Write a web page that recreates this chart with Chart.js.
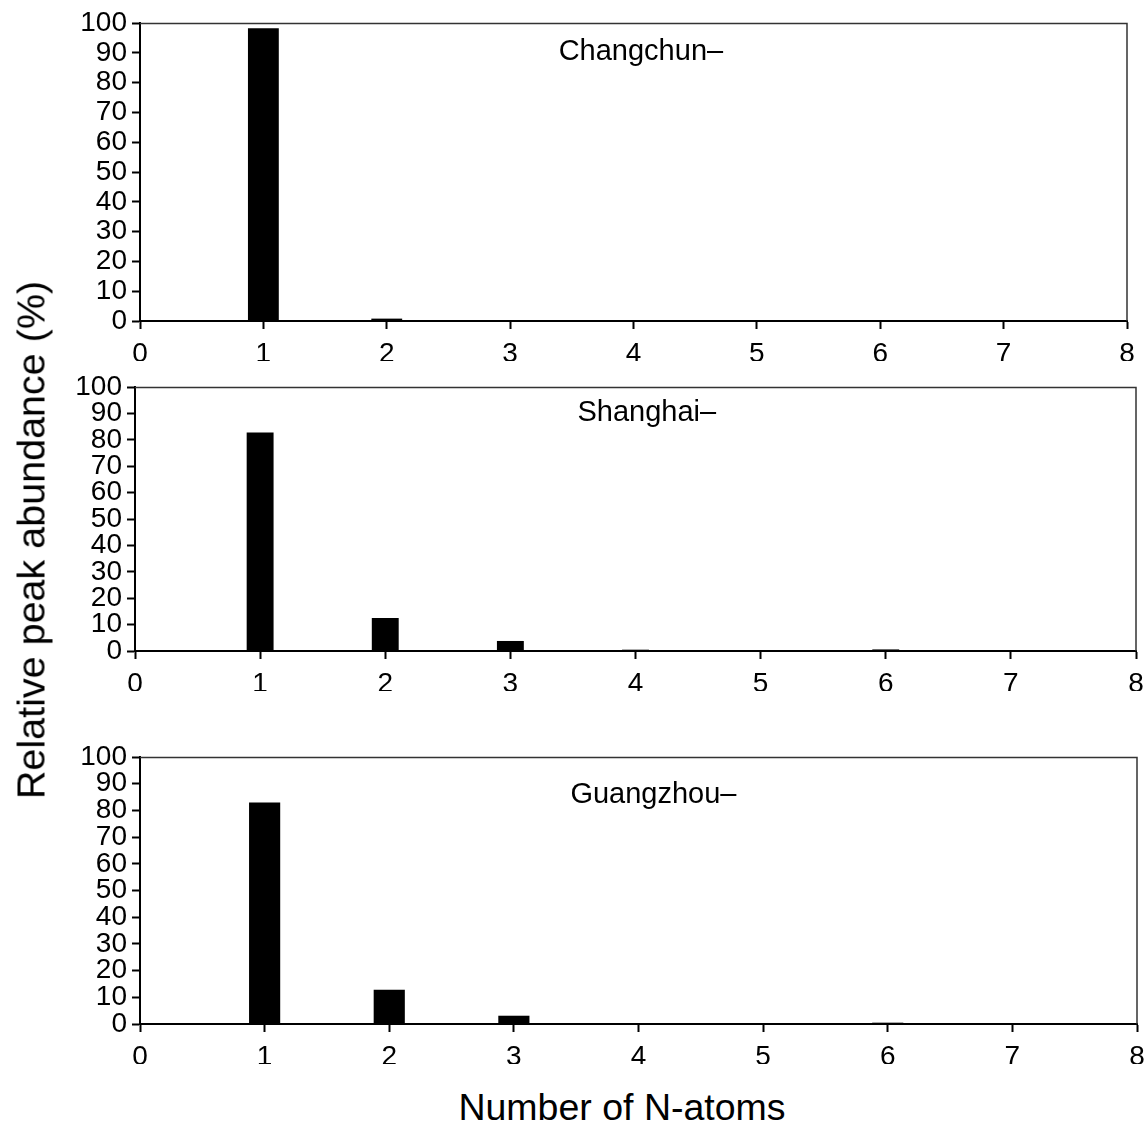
<!DOCTYPE html>
<html>
<head>
<meta charset="utf-8">
<script src="https://cdn.jsdelivr.net/npm/chart.js@4.4.1/dist/chart.umd.min.js"></script>
<style>
  html, body { margin: 0; padding: 0; background: #ffffff; }
  body { width: 1148px; height: 1125px; position: relative; overflow: hidden; font-family: "Liberation Sans", Arial, sans-serif; }
  .panel { position: absolute; left: 0; width: 1148px; }
  #ytitle { position: absolute; left: 31px; top: 540px; transform: translate(-50%, -50%) rotate(-90deg); font-size: 39.5px; white-space: nowrap; color: #000; }
  #xtitle { position: absolute; left: 622px; top: 1107px; transform: translate(-50%, -50%); font-size: 37.5px; white-space: nowrap; color: #000; }
</style>
</head>
<body>
<div class="panel" style="top:0px;height:375px;"><canvas id="c1"></canvas></div>
<div class="panel" style="top:375px;height:330px;"><canvas id="c2"></canvas></div>
<div class="panel" style="top:740px;height:330px;"><canvas id="c3"></canvas></div>
<div id="ytitle">Relative peak abundance (%)</div>
<div id="xtitle">Number of N-atoms</div>
<script>
// ---- data ----
const nAtoms = [1, 2, 3, 4, 5, 6, 7];
const changchun = [98.2, 0.8, 0, 0, 0, 0.3, 0];
const shanghai = [82.8, 12.5, 3.8, 0.5, 0, 0.6, 0];
const guangzhou = [83.0, 12.8, 3.1, 0.4, 0, 0.5, 0];
const panelLabels = ["Changchun\u2013", "Shanghai\u2013", "Guangzhou\u2013"];
const xTicks = [0, 1, 2, 3, 4, 5, 6, 7, 8];
const yTicks = [0, 10, 20, 30, 40, 50, 60, 70, 80, 90, 100];

const FONT = "'Liberation Sans', Arial, sans-serif";

const framePlugin = {
  id: 'frame',
  afterDraw(chart, args, opts) {
    const { ctx, chartArea: a, scales } = chart;
    ctx.save();
    ctx.strokeStyle = '#333';
    ctx.lineWidth = 1.5;
    ctx.beginPath();
    ctx.moveTo(a.left, a.top + 0.5);
    ctx.lineTo(a.right, a.top + 0.5);
    ctx.lineTo(a.right, a.bottom);
    ctx.stroke();
    ctx.fillStyle = '#000';
    ctx.font = '29px ' + FONT;
    ctx.textAlign = 'center';
    ctx.textBaseline = 'middle';
    ctx.fillText(opts.text, scales.x.getPixelForValue(opts.lx), scales.y.getPixelForValue(opts.ly));
    ctx.restore();
  }
};

function makeChart(id, values, label, lay) {
  const pts = nAtoms.map((n, i) => ({ x: n, y: values[i] }));
  return new Chart(document.getElementById(id), {
    type: 'bar',
    data: {
      datasets: [{
        data: pts,
        backgroundColor: '#000',
        borderColor: '#000',
        borderWidth: 0,
        categoryPercentage: 1,
        barPercentage: lay.bp
      }]
    },
    options: {
      responsive: true,
      maintainAspectRatio: false,
      animation: false,
      events: [],
      layout: { padding: { left: lay.pl, right: lay.pr, top: lay.pt, bottom: lay.pb } },
      plugins: {
        legend: { display: false },
        tooltip: { enabled: false },
        frame: { text: label, lx: lay.lx, ly: lay.ly }
      },
      scales: {
        x: {
          type: 'linear',
          min: xTicks[0],
          max: xTicks[xTicks.length - 1],
          offset: false,
          afterBuildTicks: (s) => { s.ticks = xTicks.map(v => ({ value: v })); },
          afterFit: (s) => { s.height = 40; s.paddingLeft = 0; s.paddingRight = 0; },
          grid: { display: true, drawOnChartArea: false, drawTicks: true, tickLength: 8, tickColor: '#000', tickWidth: 2, offset: false },
          border: { display: true, color: '#000', width: 2 },
          ticks: { color: '#000', font: { family: FONT, size: 28 }, padding: 8, maxRotation: 0, autoSkip: false }
        },
        y: {
          type: 'linear',
          min: yTicks[0],
          max: yTicks[yTicks.length - 1],
          afterBuildTicks: (s) => { s.ticks = yTicks.map(v => ({ value: v })); },
          afterFit: (s) => { s.width = 100; s.paddingTop = 0; s.paddingBottom = 0; },
          grid: { display: true, drawOnChartArea: false, drawTicks: true, tickLength: 8, tickColor: '#000', tickWidth: 2 },
          border: { display: true, color: '#000', width: 2 },
          ticks: { color: '#000', font: { family: FONT, size: 28 }, padding: 5, autoSkip: false }
        }
      }
    },
    plugins: [framePlugin]
  });
}

makeChart('c1', changchun, panelLabels[0], { pl: 40, pr: 21, pt: 23, pb: 14, bp: 0.25, lx: 4.06, ly: 90.3 });
makeChart('c2', shanghai, panelLabels[1], { pl: 35, pr: 12, pt: 12, pb: 14, bp: 0.215, lx: 4.09, ly: 90.2 });
makeChart('c3', guangzhou, panelLabels[2], { pl: 40, pr: 11, pt: 17, pb: 6, bp: 0.25, lx: 4.12, ly: 85.9 });
</script>
</body>
</html>
